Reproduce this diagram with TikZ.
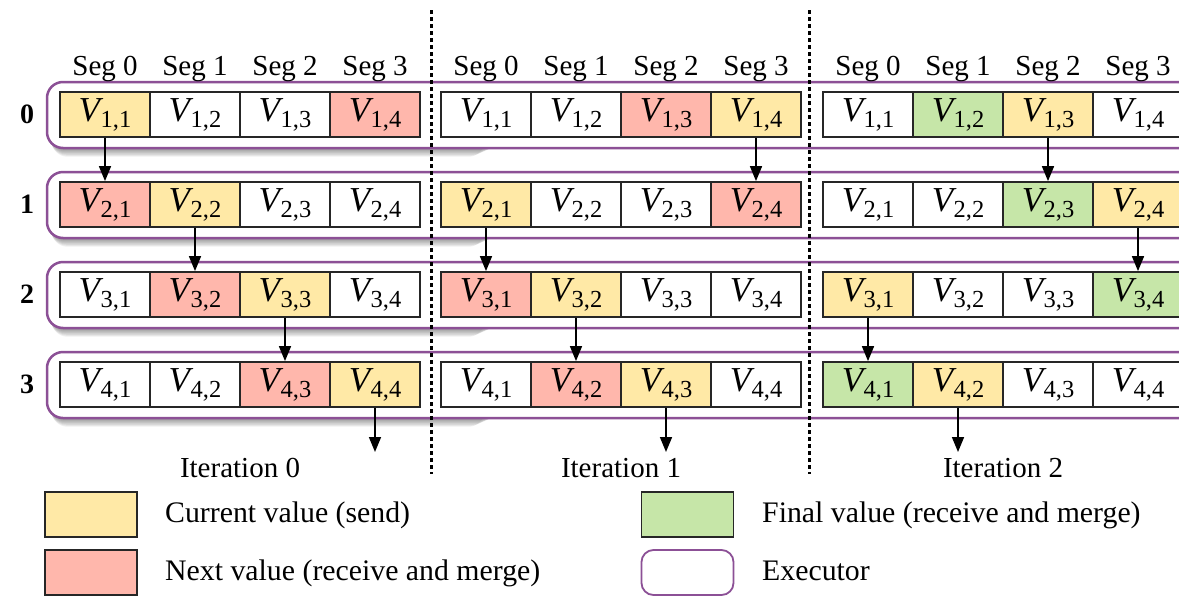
\documentclass[tikz,border=0pt]{standalone}
\usepackage{fontspec}
\setmainfont{Liberation Serif}
\usetikzlibrary{arrows.meta}
\definecolor{cy}{RGB}{255,233,166}
\definecolor{cr}{RGB}{255,183,172}
\definecolor{cg}{RGB}{198,230,168}
\definecolor{cp}{RGB}{140,80,150}
\newcommand\cellv[2]{{\fontsize{35}{35}\selectfont\itshape V}\kern0.5pt\raisebox{-6pt}{\fontsize{24.5}{24.5}\selectfont #1,#2}}
\newcommand\cellrow[7]{%
  \foreach \cc [count=\s from 0] in {#4,#5,#6,#7}{%
    \pgfmathtruncatemacro\rr{#2+1}%
    \pgfmathtruncatemacro\ss{\s+1}%
    \node[cellbox, fill=\cc] (c-#1-#2-\s) at ({#3+45+90*\s},{114.5+90*#2}) {\cellv{\rr}{\ss}};
  }}
\begin{document}
\begin{tikzpicture}[x=1pt,y=-1pt,
  cellbox/.style={draw=black!85, line width=1.8pt, minimum width=90pt, minimum height=45pt, inner sep=0pt, anchor=center},
  executor/.style={draw=cp, line width=2.5pt, fill=white, rounded corners=16pt},
  sep/.style={line width=3pt, dash pattern=on 3.5pt off 3.5pt},
  flow/.style={line width=1.6pt, -{Triangle[length=15pt,width=12pt]}},
  lbl/.style={font=\fontsize{29}{29}\selectfont, inner sep=0pt, anchor=base},
  rowlbl/.style={font=\fontsize{28}{28}\selectfont\bfseries, inner sep=0pt},
  legbox/.style={draw=black!85, line width=1.8pt, minimum width=92pt, minimum height=45pt, inner sep=0pt},
  legtxt/.style={font=\fontsize{29.8}{29.8}\selectfont, inner sep=0pt, anchor=base west}]
\useasboundingbox (0,0) rectangle (1179,595);
\clip (0,0) rectangle (1179,595);
\fill[white] (0,0) rectangle (1179,595);
% executors with shadow
\foreach \r in {0,...,3}{
  \foreach \k in {1,...,7}{
    \fill[black, opacity=0.06, rounded corners=16pt] ({48+\k*0.5},{85+90*\r+\k}) rectangle ({502-\k*2.5},{149+90*\r+\k*1.1});
  }
  \draw[executor] (47,{82+90*\r}) rectangle (1230,{148+90*\r});
}
% cells
\cellrow{0}{0}{60}{cy}{white}{white}{cr}
\cellrow{0}{1}{60}{cr}{cy}{white}{white}
\cellrow{0}{2}{60}{white}{cr}{cy}{white}
\cellrow{0}{3}{60}{white}{white}{cr}{cy}
\cellrow{1}{0}{441}{white}{white}{cr}{cy}
\cellrow{1}{1}{441}{cy}{white}{white}{cr}
\cellrow{1}{2}{441}{cr}{cy}{white}{white}
\cellrow{1}{3}{441}{white}{cr}{cy}{white}
\cellrow{2}{0}{823}{white}{cg}{cy}{white}
\cellrow{2}{1}{823}{white}{white}{cg}{cy}
\cellrow{2}{2}{823}{cy}{white}{white}{cg}
\cellrow{2}{3}{823}{cg}{cy}{white}{white}
% separators
\draw[sep] (431,10) -- (431,474);
\draw[sep] (809,10) -- (809,474);
% segment labels
\foreach \xo/\it in {60/0,441/1,823/2}{
  \foreach \s in {0,...,3}{
    \node[lbl] (seg-\it-\s) at ({\xo+45+90*\s},75) {Seg \s};
  }
}
% row labels
\foreach \r in {0,...,3}{
  \node[rowlbl] (row-\r) at (27,{114.5+90*\r}) {\r};
}
% arrows
\coordinate (e0) at (375,452);
\coordinate (e1) at (666,452);
\coordinate (e2) at (958,452);
\draw[flow] (c-0-0-0.south) -- (c-0-1-0.north);
\draw[flow] (c-0-1-1.south) -- (c-0-2-1.north);
\draw[flow] (c-0-2-2.south) -- (c-0-3-2.north);
\draw[flow] (c-0-3-3.south) -- (e0);
\draw[flow] (c-1-0-3.south) -- (c-1-1-3.north);
\draw[flow] (c-1-1-0.south) -- (c-1-2-0.north);
\draw[flow] (c-1-2-1.south) -- (c-1-3-1.north);
\draw[flow] (c-1-3-2.south) -- (e1);
\draw[flow] (c-2-0-2.south) -- (c-2-1-2.north);
\draw[flow] (c-2-1-3.south) -- (c-2-2-3.north);
\draw[flow] (c-2-2-0.south) -- (c-2-3-0.north);
\draw[flow] (c-2-3-1.south) -- (e2);
% iteration labels
\node[lbl] (it0) at (240,477) {Iteration 0};
\node[lbl] (it1) at (621,477) {Iteration 1};
\node[lbl] (it2) at (1003,477) {Iteration 2};
% legend
\node[legbox, fill=cy] (lg-y) at (91,514.5) {};
\node[legtxt] (lt-y) at (165,522) {Current value (send)};
\node[legbox, fill=cr] (lg-r) at (91,572.5) {};
\node[legtxt] (lt-r) at (165,580) {Next value (receive and merge)};
\node[legbox, fill=cg] (lg-g) at (687.5,514.5) {};
\node[legtxt] (lt-g) at (762,522) {Final value (receive and merge)};
\node[legbox, draw=cp, fill=white, rounded corners=12pt] (lg-e) at (687.5,572.5) {};
\node[legtxt] (lt-e) at (762,580) {Executor};
\end{tikzpicture}
\end{document}
